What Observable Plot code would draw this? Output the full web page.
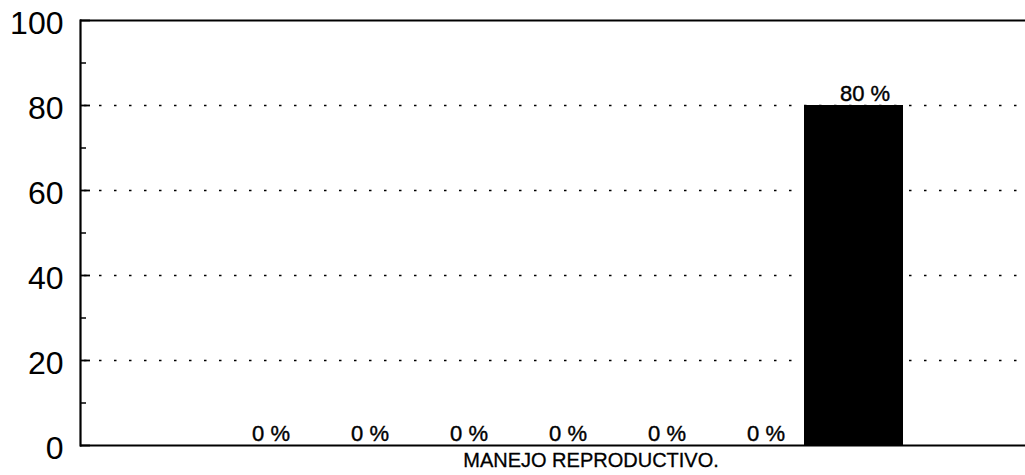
<!DOCTYPE html>
<html>
<head>
<meta charset="utf-8">
<script src="https://cdn.jsdelivr.net/npm/d3@7"></script>
<script src="https://cdn.jsdelivr.net/npm/@observablehq/plot@0.6"></script>
<style>
  html, body { margin: 0; padding: 0; background: #fff; }
  svg { display: block; }
</style>
</head>
<body>
<div id="chart"></div>
<script>
const categories = ["C1", "C2", "C3", "C4", "C5", "C6", "C7"];
const values = [0, 0, 0, 0, 0, 0, 80];
const labels = ["0 %", "0 %", "0 %", "0 %", "0 %", "0 %", "80 %"];
const majorTicks = [0, 20, 40, 60, 80, 100];
const minorTicks = [10, 30, 50, 70, 90];
const gridTicks = [20, 40, 60, 80];
const xTitle = "MANEJO REPRODUCTIVO.";

const data = categories.map((c, i) => ({category: c, value: values[i], label: labels[i]}));
const font = "Liberation Sans, Arial, Helvetica, sans-serif";

const W = 1025, ML = 80, MR = 0;
const innerW = W - ML - MR;

const chart = Plot.plot({
  width: W,
  height: 475,
  marginLeft: ML,
  marginRight: MR,
  marginTop: 20,
  marginBottom: 30,
  style: {fontFamily: font, color: "#000", background: "#fff"},
  x: {domain: categories, range: [210, 903], padding: 0, axis: null},
  y: {domain: [0, 100], axis: null},
  marks: [
    Plot.ruleY(gridTicks, {stroke: "#000", strokeWidth: 1.6, strokeDasharray: "2.5,12.5", strokeDashoffset: -4}),
    Plot.barY(data, {x: "category", y: "value", fill: "#000"}),
    Plot.text(data, {x: "category", y: "value", text: "label", dx: 11, dy: -5, lineAnchor: "bottom", fontSize: 22, fill: "#000", stroke: "#000", strokeWidth: 0.4}),
    Plot.ruleY(majorTicks, {insetRight: innerW - 10, stroke: "#000", strokeWidth: 1.8}),
    Plot.ruleY(minorTicks, {insetRight: innerW - 6, stroke: "#000", strokeWidth: 1.5}),
    Plot.axisY(majorTicks, {tickSize: 0, tickPadding: 17, fontSize: 32, dy: 3, fill: "#000", stroke: "#000", strokeWidth: 0.6, label: null}),
    Plot.ruleY([0, 100], {stroke: "#000", strokeWidth: 2.2}),
    Plot.frame({anchor: "left", stroke: "#000", strokeWidth: 2.2}),
    Plot.text([xTitle], {frameAnchor: "bottom", dx: 38, dy: 21, fontSize: 20, fill: "#000", stroke: "#000", strokeWidth: 0.3})
  ]
});
document.getElementById("chart").appendChild(chart);
</script>
</body>
</html>
